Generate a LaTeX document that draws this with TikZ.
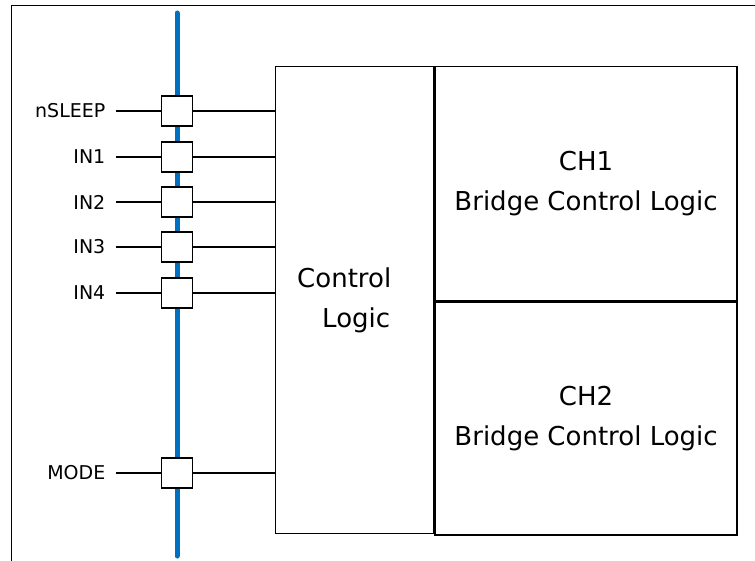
\documentclass[tikz,border=0pt]{standalone}
\usepackage{fontspec}
\setmainfont{DejaVu Sans}
\usetikzlibrary{positioning}
\definecolor{busblue}{RGB}{0,112,192}

\begin{document}
\begin{tikzpicture}[x=1pt, y=-1pt, line width=1.4pt,
  pinbox/.style={draw, fill=white, minimum width=31pt, minimum height=30pt, inner sep=0pt},
  pinlabel/.style={inner sep=0pt, font=\fontsize{19}{20}\selectfont},
  blockbox/.style={draw, inner sep=0pt, font=\fontsize{26}{40}\selectfont}]
  \useasboundingbox (0,0) rectangle (755,561);
  \draw (11.5,561) -- (11.5,5.5) -- (755,5.5);

  % bus
  \draw[busblue, line width=5pt, line cap=round] (177,13) -- (177,556);

  % logic blocks
  \node[blockbox, align=left, minimum width=158pt, minimum height=467pt,
        anchor=north west] (ctl) at (275,66)
        {Control\hspace*{21pt}\\\hspace*{25pt}Logic};
  \node[blockbox, align=center, minimum width=302pt, minimum height=234pt,
        anchor=north west] (ch1) at (ctl.north east) {CH1\\Bridge Control Logic};
  \node[blockbox, align=center, minimum width=302pt, minimum height=233pt,
        anchor=north west] (ch2) at (ch1.south west) {CH2\\Bridge Control Logic};

  % input pins
  \foreach \name/\y/\lab in {nsleep/111/nSLEEP, in1/157/IN1, in2/202/IN2,
                             in3/247/IN3, in4/293/IN4, mode/473/MODE} {
    \node[pinbox] (\name) at (177,\y) {};
    \coordinate (\name-in) at (116,\y);
    \node[pinlabel, left=10pt of \name-in] (\name-lab) {\lab};
    \draw (\name-in) -- (\name.west);
    \draw (\name.east) -- (\name.east -| ctl.west);
  }
\end{tikzpicture}
\end{document}
